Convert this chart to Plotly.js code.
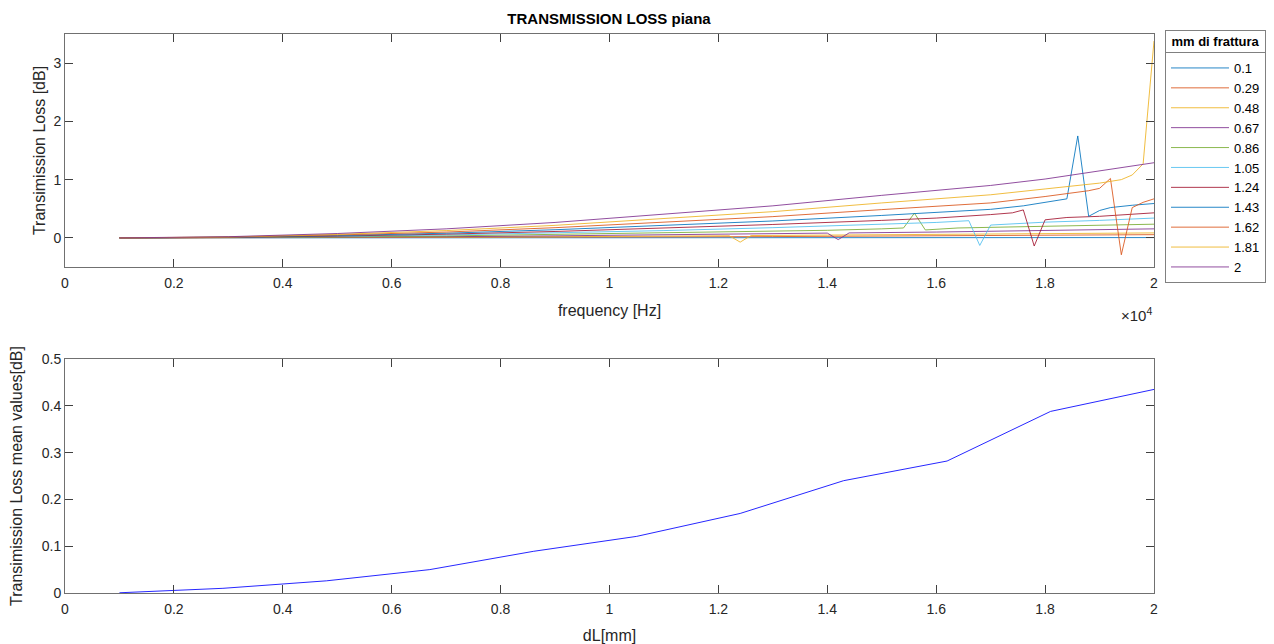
<!DOCTYPE html>
<html>
<head>
<meta charset="utf-8">
<script src="https://cdn.plot.ly/plotly-3.0.1.min.js"></script>
<style>html,body{margin:0;padding:0;background:#fff;}#chart{width:1274px;height:644px;}</style>
</head>
<body>
<div id="chart"></div>
<script>
// legend / categories
const mmLabels = ["0.1","0.29","0.48","0.67","0.86","1.05","1.24","1.43","1.62","1.81","2"];
const mm = [0.1,0.29,0.48,0.67,0.86,1.05,1.24,1.43,1.62,1.81,2];

// top plot: frequency [Hz] and transmission loss [dB] per fracture width
const f010 = [1000,3000,5000,7000,9000,11000,13000,15000,16000,17000,18000,19000,20000];
const tl010 = [0,0,0.001,0.001,0.002,0.002,0.003,0.003,0.004,0.004,0.005,0.005,0.005];
const f029 = [1000,3000,5000,7000,9000,11000,13000,15000,16000,17000,18000,19000,20000];
const tl029 = [0,0.001,0.004,0.008,0.012,0.017,0.022,0.028,0.031,0.034,0.039,0.046,0.055];
const f048 = [1000,3000,5000,7000,9000,11000,12200,12400,12600,14000,16000,18000,20000];
const tl048 = [0,0.002,0.006,0.012,0.02,0.03,0.036,-0.073,0.04,0.048,0.06,0.072,0.085];
const f067 = [1000,3000,5000,7000,9000,11000,13000,14000,14200,14400,16000,18000,20000];
const tl067 = [0,0.003,0.01,0.02,0.035,0.052,0.07,0.082,-0.03,0.085,0.1,0.125,0.155];
const f086 = [1000,3000,5000,7000,9000,11000,13000,14000,15000,15400,15600,15800,16400,17000,18000,19000,20000];
const tl086 = [0,0.004,0.016,0.033,0.057,0.085,0.11,0.13,0.155,0.17,0.425,0.136,0.17,0.18,0.2,0.215,0.235];
const f105 = [1000,3000,5000,7000,9000,11000,13000,15000,16000,16600,16800,17000,18000,19000,20000];
const tl105 = [0,0.006,0.024,0.05,0.085,0.125,0.175,0.23,0.265,0.295,-0.13,0.22,0.27,0.3,0.34];
const f124 = [1000,3000,5000,7000,9000,11000,13000,15000,16000,17000,17400,17600,17800,18000,18400,19000,20000];
const tl124 = [0,0.008,0.031,0.064,0.11,0.165,0.23,0.3,0.34,0.4,0.43,0.48,-0.14,0.31,0.35,0.37,0.43];
const f143 = [1000,3000,5000,7000,9000,11000,13000,15000,16000,17000,17600,18000,18200,18400,18600,18800,19000,19200,19600,20000];
const tl143 = [0,0.01,0.04,0.08,0.14,0.21,0.29,0.385,0.44,0.49,0.55,0.61,0.64,0.67,1.75,0.37,0.47,0.52,0.56,0.59];
const f162 = [1000,3000,5000,7000,9000,11000,13000,15000,16000,17000,18000,18400,18800,19000,19200,19400,19600,19800,20000];
const tl162 = [0,0.013,0.05,0.1,0.175,0.265,0.365,0.485,0.54,0.6,0.71,0.76,0.81,0.85,1.02,-0.29,0.52,0.61,0.67];
const f181 = [1000,3000,5000,7000,9000,11000,13000,15000,16000,17000,18000,19000,19400,19600,19800,20000];
const tl181 = [0,0.016,0.06,0.125,0.215,0.33,0.45,0.6,0.67,0.74,0.84,0.94,1.0,1.08,1.27,3.38];
const f200 = [1000,3000,5000,7000,9000,11000,13000,15000,16000,17000,18000,19000,20000];
const tl200 = [0,0.02,0.075,0.155,0.265,0.405,0.55,0.73,0.81,0.9,1.01,1.15,1.29];

// bottom plot: mean transmission loss vs dL
const tlMean = [0.0005,0.010,0.026,0.050,0.089,0.121,0.170,0.240,0.282,0.388,0.435];

// tick labels
const freqTickVals = [0,2000,4000,6000,8000,10000,12000,14000,16000,18000,20000];
const freqTickText = ["0","0.2","0.4","0.6","0.8","1","1.2","1.4","1.6","1.8","2"];
const dlTickVals = [0,0.2,0.4,0.6,0.8,1,1.2,1.4,1.6,1.8,2];
const dlTickText = ["0","0.2","0.4","0.6","0.8","1","1.2","1.4","1.6","1.8","2"];
const legendTitle = "mm di frattura";

const colors = ["#0072BD","#D95319","#EDB120","#7E2F8E","#77AC30","#4DBEEE","#A2142F"];
const xs = [f010,f029,f048,f067,f086,f105,f124,f143,f162,f181,f200];
const ys = [tl010,tl029,tl048,tl067,tl086,tl105,tl124,tl143,tl162,tl181,tl200];

const traces = [];
for (let i = 0; i < mmLabels.length; i++) {
  traces.push({
    x: xs[i], y: ys[i], type: 'scatter', mode: 'lines', name: mmLabels[i],
    line: {color: colors[i % colors.length], width: 1}, opacity: 0.85,
    xaxis: 'x', yaxis: 'y', showlegend: true
  });
}
traces.push({
  x: mm, y: tlMean, type: 'scatter', mode: 'lines', name: 'mean',
  line: {color: '#0000FF', width: 1}, opacity: 0.85, xaxis: 'x2', yaxis: 'y2', showlegend: false
});

const W = 1274, H = 644;
const axL = 65/W, axR = 1154/W;
const font = {family: 'Liberation Sans, Arial, sans-serif', color: '#262626'};
const axisCommon = {
  showline: true, linecolor: '#707070', linewidth: 1, mirror: 'ticks',
  ticks: 'inside', ticklen: 8, tickcolor: '#404040', tickwidth: 1,
  showgrid: false, zeroline: false,
  tickfont: {family: font.family, size: 14, color: '#262626'}
};

const layout = {
  width: W, height: H,
  margin: {l: 0, r: 0, t: 0, b: 0},
  paper_bgcolor: '#ffffff', plot_bgcolor: '#ffffff',
  font: font,
  title: {text: '<b>TRANSMISSION LOSS piana</b>', x: 609/W, xref: 'paper', xanchor: 'center',
          y: 1 - 19/H, yref: 'paper', yanchor: 'middle', font: {size: 15, color: '#000'}},
  xaxis: Object.assign({}, axisCommon, {
    domain: [axL, axR], anchor: 'y', range: [0, 20000],
    tickvals: freqTickVals, ticktext: freqTickText, ticklabelstandoff: 3,
    title: {text: 'frequency [Hz]', font: {size: 16, color: '#262626'}, standoff: 15}
  }),
  yaxis: Object.assign({}, axisCommon, {
    domain: [1 - 267/H, 1 - 34/H], anchor: 'x', range: [-0.5, 3.5],
    tickvals: [0,1,2,3],
    title: {text: 'Transimission Loss [dB]', font: {size: 16, color: '#262626'}, standoff: 3}
  }),
  xaxis2: Object.assign({}, axisCommon, {
    domain: [axL, axR], anchor: 'y2', range: [0, 2],
    tickvals: dlTickVals, ticktext: dlTickText, ticklabelstandoff: 3,
    title: {text: 'dL[mm]', font: {size: 16, color: '#262626'}, standoff: 16}
  }),
  yaxis2: Object.assign({}, axisCommon, {
    domain: [1 - 593/H, 1 - 359/H], anchor: 'x2', range: [0, 0.5],
    tickvals: [0,0.1,0.2,0.3,0.4,0.5], ticktext: ["0","0.1","0.2","0.3","0.4","0.5"],
    title: {text: 'Transimission Loss mean values[dB]', font: {size: 16, color: '#262626'}, standoff: 15}
  }),
  legend: {
    x: 1165/W, y: 1 - 52/H, xanchor: 'left', yanchor: 'top',
    bordercolor: '#808080', borderwidth: 1, bgcolor: '#ffffff',
    font: {family: font.family, size: 13, color: '#000'},
    itemwidth: 58, tracegroupgap: 0
  },
  annotations: [
    {text: '×10<sup>4</sup>', xref: 'paper', yref: 'paper', x: 1136/W, y: 1 - 314/H,
     xanchor: 'center', yanchor: 'middle', showarrow: false, font: {size: 15, color: '#262626'}},
    // legend title box; its bottom border is the separator under the title
    {text: '<b>' + legendTitle + '</b>', xref: 'paper', yref: 'paper', x: 1165/W, y: 1 - 30/H,
     xanchor: 'left', yanchor: 'top', showarrow: false, width: 101, height: 21,
     align: 'center', valign: 'middle', borderpad: 0, borderwidth: 1, bordercolor: '#808080',
     bgcolor: '#ffffff', font: {size: 13, color: '#000', family: font.family}}
  ]
};

Plotly.newPlot('chart', traces, layout, {displayModeBar: false, staticPlot: true}).then(function (gd) {
  // make the title box exactly as wide as the rendered legend box
  const bg = gd.querySelector('g.legend rect.bg');
  if (bg) {
    const w = bg.getBoundingClientRect().width;
    if (w > 40) return Plotly.relayout(gd, {'annotations[1].width': Math.round(w) - 1});
  }
});
</script>
</body>
</html>
